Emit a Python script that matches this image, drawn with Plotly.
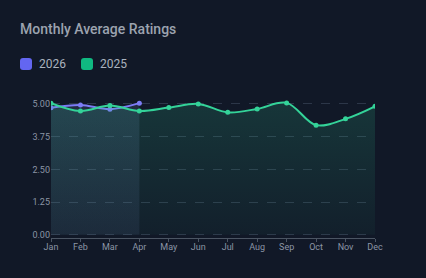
import plotly.graph_objects as go

months = ["Jan", "Feb", "Mar", "Apr", "May", "Jun", "Jul", "Aug", "Sep", "Oct", "Nov", "Dec"]
ratings_2026 = [4.85, 4.96, 4.80, 5.03]
ratings_2025 = [5.03, 4.73, 4.94, 4.73, 4.86, 5.00, 4.68, 4.81, 5.04, 4.19, 4.43, 4.91]
y_ticks = [0, 1.25, 2.5, 3.75, 5.0]
legend_items = [("2026", "#6366f1", 20), ("2025", "#10b981", 81)]

BG = "#111827"
PURPLE = "#7c7cf5"
GREEN = "#34d399"

W, H = 426, 278
L, R, T, B = 51, 51, 100, 40
PW, PH = W - L - R, H - T - B


def px_x(px):
    return (px - L) / PW


def px_y(py):
    return (H - B - py) / PH


fig = go.Figure()

fig.add_trace(go.Scatter(
    x=months[:len(ratings_2026)], y=ratings_2026, name="2026",
    mode="lines+markers", line=dict(color=PURPLE, width=2, shape="spline"),
    marker=dict(size=5, color=PURPLE),
    fill="tozeroy",
    fillgradient=dict(type="vertical", colorscale=[[0, "rgba(120,140,200,0.10)"], [1, "rgba(120,150,210,0.16)"]]),
    showlegend=False, hoverinfo="skip"))

fig.add_trace(go.Scatter(
    x=months, y=ratings_2025, name="2025",
    mode="lines+markers", line=dict(color=GREEN, width=2, shape="spline"),
    marker=dict(size=5, color=GREEN),
    fill="tozeroy",
    fillgradient=dict(type="vertical", colorscale=[[0, "rgba(52,211,153,0.04)"], [1, "rgba(52,211,153,0.16)"]]),
    showlegend=False, hoverinfo="skip"))

shapes = []
annotations = []
for name, col, x0 in legend_items:
    y0, s, r = 58, 12, 3
    x1, y1 = x0 + s, y0 + s
    path = (f"M {px_x(x0 + r)} {px_y(y0)} L {px_x(x1 - r)} {px_y(y0)} "
            f"Q {px_x(x1)} {px_y(y0)} {px_x(x1)} {px_y(y0 + r)} "
            f"L {px_x(x1)} {px_y(y1 - r)} Q {px_x(x1)} {px_y(y1)} {px_x(x1 - r)} {px_y(y1)} "
            f"L {px_x(x0 + r)} {px_y(y1)} Q {px_x(x0)} {px_y(y1)} {px_x(x0)} {px_y(y1 - r)} "
            f"L {px_x(x0)} {px_y(y0 + r)} Q {px_x(x0)} {px_y(y0)} {px_x(x0 + r)} {px_y(y0)} Z")
    shapes.append(dict(type="path", xref="paper", yref="paper", path=path,
                       fillcolor=col, line=dict(width=0)))
    annotations.append(dict(text=name, xref="paper", yref="paper", x=px_x(x0 + s + 5), y=px_y(64),
                            xanchor="left", yanchor="middle", showarrow=False,
                            font=dict(size=12, color="#aab2be")))

fig.update_layout(
    width=W, height=H,
    paper_bgcolor=BG, plot_bgcolor=BG,
    margin=dict(l=L, r=R, t=T, b=B),
    font=dict(family="Roboto, sans-serif", color="#8b95a5"),
    title=dict(text="Monthly Average Ratings", x=20 / W, xanchor="left", y=1 - 29 / H, yanchor="middle",
               font=dict(size=14, color="#9ca3af", weight=500)),
    showlegend=False,
    shapes=shapes,
    annotations=annotations,
    xaxis=dict(type="category", categoryorder="array", categoryarray=months,
               range=[0, 11], showgrid=False, zeroline=False,
               showline=True, linecolor="#4b5563", linewidth=1,
               ticks="outside", ticklen=3, tickcolor="#4b5563",
               ticklabelstandoff=-3,
               tickfont=dict(size=9, color="#8b95a5")),
    yaxis=dict(range=[-0.12, 5.15], tickvals=y_ticks, tickformat=".2f",
               showgrid=True, gridcolor="#2c3648", griddash="dash", gridwidth=1,
               zeroline=False, showline=False, ticks="",
               tickfont=dict(size=9, color="#8b95a5")),
)

fig.write_html("out.html")
